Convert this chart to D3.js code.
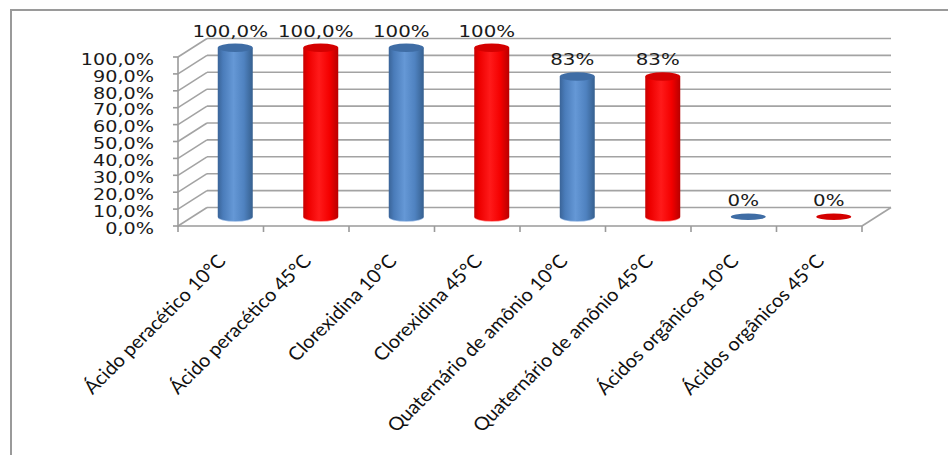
<!DOCTYPE html>
<html><head><meta charset="utf-8">
<script src="https://cdn.jsdelivr.net/npm/d3@7"></script>
<style>html,body{margin:0;padding:0;background:#fff;}</style>
</head><body>
<svg id="chart" width="948" height="455"></svg>
<script>
const categories = ["Ácido peracético 10°C","Ácido peracético 45°C","Clorexidina 10°C","Clorexidina 45°C","Quaternário de amônio 10°C","Quaternário de amônio 45°C","Ácidos orgânicos 10°C","Ácidos orgânicos 45°C"];
const values = [1.0, 1.0, 1.0, 1.0, 0.83, 0.83, 0, 0];
const valueLabels = ["100,0%","100,0%","100%","100%","83%","83%","0%","0%"];
const temps = ["10°C","45°C","10°C","45°C","10°C","45°C","10°C","45°C"];
const yTicks = [0,0.1,0.2,0.3,0.4,0.5,0.6,0.7,0.8,0.9,1.0];
const yTickLabels = ["0,0%","10,0%","20,0%","30,0%","40,0%","50,0%","60,0%","70,0%","80,0%","90,0%","100,0%"];

const svg = d3.select("#chart");
const SX = 1.2;           // horizontal stretch of the original picture
const DX = 29, DY = -18.5; // 3D depth offset
const x = d3.scaleBand().domain(categories).range([178, 862]).paddingInner(0).paddingOuter(0);
const y = d3.scaleLinear().domain([0, 1]).range([226, 57]);
const bw = x.bandwidth();
const rx = 17.5, ry = 4.2;

// outer border
svg.append("rect").attr("x", 11).attr("y", 10).attr("width", 1000).attr("height", 500)
  .attr("fill", "#fff").attr("stroke", "#9a9a9a").attr("stroke-width", 2);

// gradients
const defs = svg.append("defs");
function grad(id, stops) {
  const g = defs.append("linearGradient").attr("id", id).attr("x1", "0%").attr("x2", "100%").attr("y1", "0%").attr("y2", "0%");
  stops.forEach(s => g.append("stop").attr("offset", s[0]).attr("stop-color", s[1]));
}
grad("gBlue", [["0%","#3a6498"],["15%","#4a7cba"],["45%","#6598d6"],["75%","#4f82c0"],["100%","#36608f"]]);
grad("gRed", [["0%","#c80000"],["15%","#ee0000"],["45%","#ff1a1a"],["75%","#f40000"],["100%","#b80000"]]);
const bodyFill = t => t === "10°C" ? "url(#gBlue)" : "url(#gRed)";
const topFill = t => t === "10°C" ? "#3f6da5" : "#d40000";
const rimFill = t => t === "10°C" ? "#9dbbe4" : "#ff8a8a";

// walls: gridlines
const grid = svg.append("g").attr("stroke", "#a3a3a3").attr("stroke-width", 1.6).attr("fill", "none");
grid.selectAll("line.back").data(yTicks).join("line").attr("class", "back")
  .attr("x1", 178 + DX).attr("x2", 862 + DX)
  .attr("y1", d => y(d) + DY).attr("y2", d => y(d) + DY);
grid.selectAll("line.side").data(yTicks).join("line").attr("class", "side")
  .attr("x1", 178).attr("x2", 178 + DX)
  .attr("y1", d => y(d)).attr("y2", d => y(d) + DY);
// floor right edge
grid.append("line").attr("x1", 862).attr("y1", y(0)).attr("x2", 862 + DX).attr("y2", y(0) + DY);

// axes
const axes = svg.append("g").attr("stroke", "#9a9a9a").attr("stroke-width", 1.6);
axes.append("line").attr("x1", 178).attr("x2", 178).attr("y1", y(1)).attr("y2", y(0) + 1);
axes.selectAll("line.yt").data(yTicks).join("line").attr("class", "yt")
  .attr("x1", 173).attr("x2", 178).attr("y1", d => y(d)).attr("y2", d => y(d));
axes.append("line").attr("x1", 178).attr("x2", 862).attr("y1", y(0)).attr("y2", y(0));
const bounds = categories.map(c => x(c)).concat([x(categories[categories.length - 1]) + bw]);
axes.selectAll("line.xt").data(bounds).join("line").attr("class", "xt")
  .attr("x1", d => d).attr("x2", d => d).attr("y1", y(0)).attr("y2", y(0) + 6);

// y tick labels
svg.append("g").selectAll("text").data(yTicks).join("text")
  .attr("transform", d => `translate(154,${y(d) + 2}) scale(${SX},1)`)
  .attr("text-anchor", "end").attr("dy", "0.36em")
  .attr("font-family", "'DejaVu Sans', Verdana, sans-serif").attr("font-size", 16).attr("fill", "#1a1a1a")
  .text((d, i) => yTickLabels[i]);

// cylinders
const cx = c => x(c) + bw / 2 + DX / 2;
const ym = v => y(v) + DY / 2;
const bars = svg.append("g");
categories.forEach((c, i) => {
  const v = values[i], t = temps[i];
  const X = cx(c), yt = ym(v), yb = ym(0);
  if (v > 0) {
    bars.append("ellipse").attr("cx", X).attr("cy", yb + 0.8).attr("rx", rx).attr("ry", ry).attr("fill", rimFill(t));
    bars.append("path")
      .attr("d", `M${X - rx},${yt} L${X - rx},${yb} A${rx},${ry} 0 0 0 ${X + rx},${yb} L${X + rx},${yt} Z`)
      .attr("fill", bodyFill(t));
    bars.append("ellipse").attr("cx", X).attr("cy", yt).attr("rx", rx).attr("ry", ry).attr("fill", topFill(t));
  } else {
    bars.append("ellipse").attr("cx", X).attr("cy", yb).attr("rx", rx).attr("ry", 3.3).attr("fill", topFill(t));
  }
});

// value labels
svg.append("g").selectAll("text").data(categories).join("text")
  .attr("transform", (c, i) => `translate(${cx(c) - 5},${ym(values[i]) - 11}) scale(${SX},1)`)
  .attr("text-anchor", "middle")
  .attr("font-family", "'DejaVu Sans', Verdana, sans-serif").attr("font-size", 16.5).attr("fill", "#1a1a1a")
  .text((c, i) => valueLabels[i]);

// category labels
svg.append("g").selectAll("text").data(categories).join("text")
  .attr("transform", c => `translate(${x(c) + bw / 2 + 6},262) scale(1.08,1) rotate(-47)`)
  .attr("text-anchor", "end")
  .attr("font-family", "Lato, 'Open Sans', sans-serif").attr("font-size", 18.5).attr("fill", "#111")
  .text(c => c);
</script>
</body></html>
